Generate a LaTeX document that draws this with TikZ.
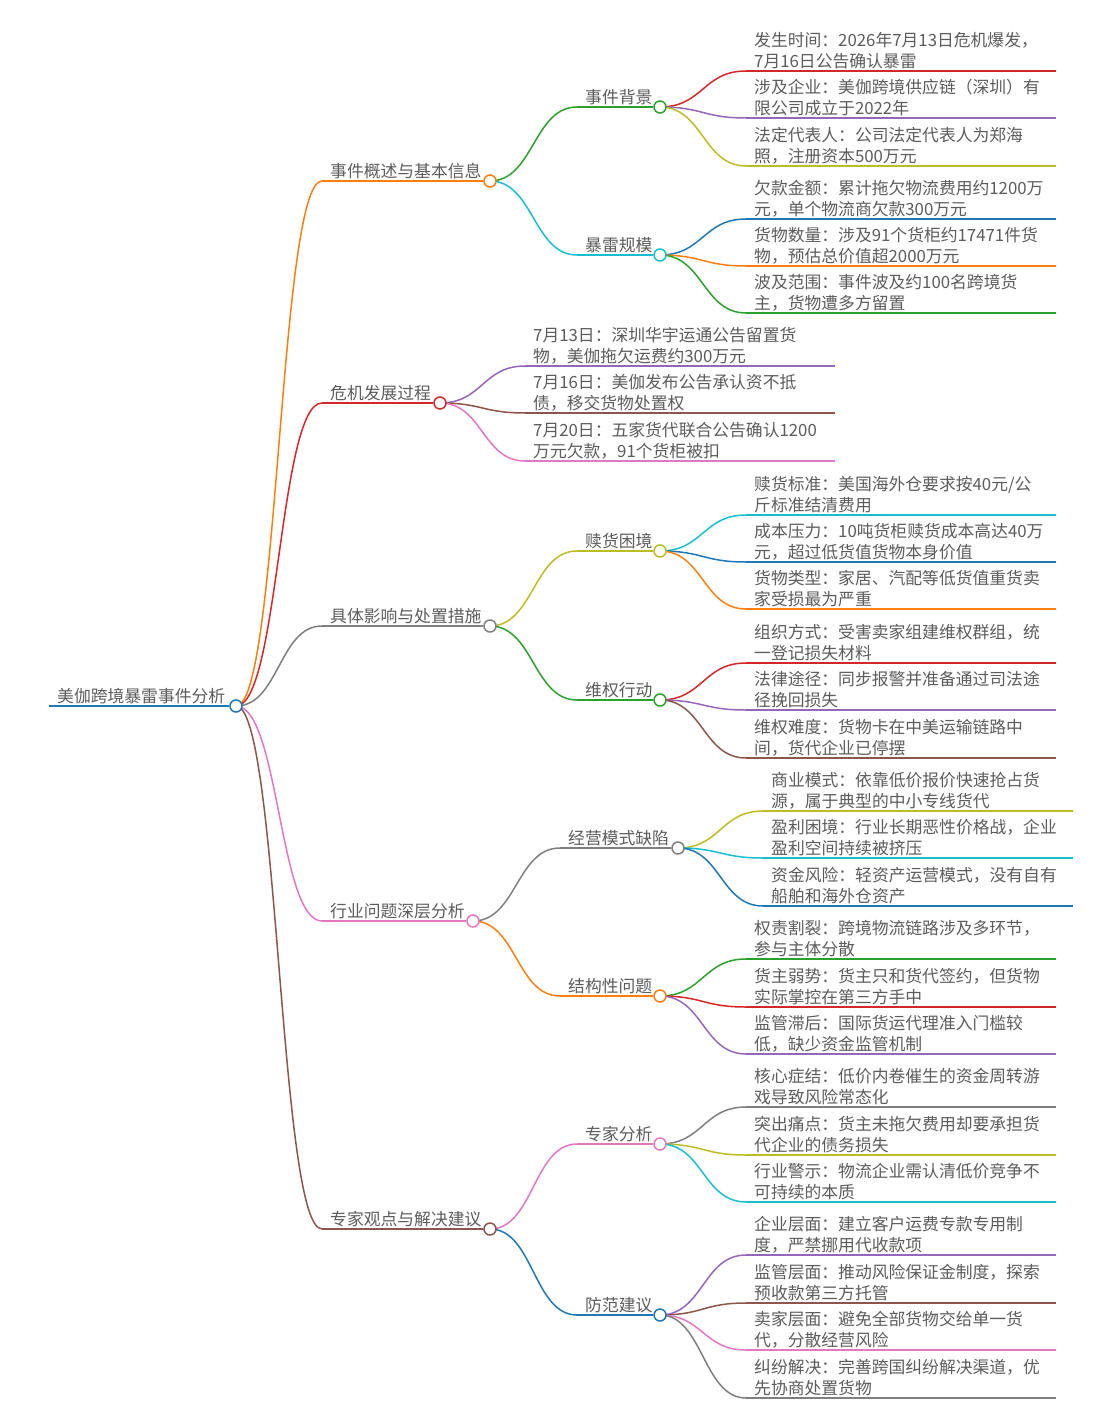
\documentclass[tikz,border=0pt]{standalone}
\usepackage{fontspec}
\newfontfamily\cjk{Noto Sans CJK SC}
\usetikzlibrary{calc}
\pgfdeclarelayer{bg}
\pgfsetlayers{bg,main}
\definecolor{mmblue}{HTML}{1F77B4}
\definecolor{mmorange}{HTML}{FF7F0E}
\definecolor{mmgreen}{HTML}{2CA02C}
\definecolor{mmred}{HTML}{D62728}
\definecolor{mmpurple}{HTML}{9467BD}
\definecolor{mmbrown}{HTML}{8C564B}
\definecolor{mmpink}{HTML}{E377C2}
\definecolor{mmgray}{HTML}{7F7F7F}
\definecolor{mmolive}{HTML}{BCBD22}
\definecolor{mmcyan}{HTML}{17BECF}
\definecolor{txt}{HTML}{5C5C5C}
\tikzset{
  ul/.style={line width=1.6pt},
  lk/.style={line width=1.5pt},
  dot/.style={circle,fill=white,line width=1.5pt,minimum size=12pt,inner sep=0pt},
  lbl/.style={font=\cjk\fontsize{16.8}{21}\selectfont,text=txt,inner sep=0pt},
}
% internal node: name, start x, circle x, y, colour, text
\newcommand\mmnode[6]{%
  \coordinate (#1s) at (#2,#4);
  \node[dot,draw=#5] (#1) at (#3,#4) {};
  \draw[#5,ul] (#1s) -- (#1);
  \node[lbl,anchor=south west] (#1t) at (#2+8,#4-1.5) {#6};
}
% leaf: name, start x, end x, y, colour, text
\newcommand\mmleaf[6]{%
  \coordinate (#1s) at (#2,#4);
  \coordinate (#1e) at (#3,#4);
  \draw[#5,ul] (#1s) -- (#1e);
  \node[lbl,align=left,anchor=south west] (#1t) at (#2+8,#4-1.5) {#6};
}
\newcommand\mmlink[3]{%
  \begin{pgfonlayer}{bg}
  \draw[#3,lk] let \p1=(#1), \p2=(#2) in (\p1) .. controls ({(\x1+\x2)/2},\y1) and ({(\x1+\x2)/2},\y2) .. (\p2);
  \end{pgfonlayer}
}
\begin{document}
\begin{tikzpicture}[x=1pt,y=-1pt]
\begin{pgfonlayer}{bg}
\fill[white] (0,0) rectangle (1110,1415);
\end{pgfonlayer}
\useasboundingbox (0,0) rectangle (1110,1415);

% root
\mmnode{R}{49}{236}{706}{mmblue}{美伽跨境暴雷事件分析}

% level 1
\mmnode{A}{322}{490}{181}{mmorange}{事件概述与基本信息}
\mmnode{B}{322}{440}{403}{mmred}{危机发展过程}
\mmnode{C}{322}{490}{626}{mmgray}{具体影响与处置措施}
\mmnode{D}{322}{473}{921}{mmpink}{行业问题深层分析}
\mmnode{E}{322}{490}{1229}{mmbrown}{专家观点与解决建议}

% level 2
\mmnode{Aa}{577}{660}{107}{mmgreen}{事件背景}
\mmnode{Ab}{577}{660}{255}{mmcyan}{暴雷规模}
\mmnode{Ca}{577}{660}{551}{mmolive}{赎货困境}
\mmnode{Cb}{577}{660}{700}{mmgreen}{维权行动}
\mmnode{Da}{560}{678}{848}{mmgray}{经营模式缺陷}
\mmnode{Db}{560}{660}{996}{mmorange}{结构性问题}
\mmnode{Ea}{577}{660}{1144}{mmpink}{专家分析}
\mmnode{Eb}{577}{660}{1315}{mmblue}{防范建议}

% leaves
\mmleaf{Aa1}{746}{1056}{71}{mmred}{发生时间：2026年7月13日危机爆发，\\7月16日公告确认暴雷}
\mmleaf{Aa2}{746}{1056}{118}{mmpurple}{涉及企业：美伽跨境供应链（深圳）有\\限公司成立于2022年}
\mmleaf{Aa3}{746}{1056}{166}{mmolive}{法定代表人：公司法定代表人为郑海\\照，注册资本500万元}
\mmleaf{Ab1}{746}{1056}{219}{mmblue}{欠款金额：累计拖欠物流费用约1200万\\元，单个物流商欠款300万元}
\mmleaf{Ab2}{746}{1056}{266}{mmorange}{货物数量：涉及91个货柜约17471件货\\物，预估总价值超2000万元}
\mmleaf{Ab3}{746}{1056}{313}{mmgreen}{波及范围：事件波及约100名跨境货\\主，货物遭多方留置}

\mmleaf{B1}{525}{835}{366}{mmpurple}{7月13日：深圳华宇运通公告留置货\\物，美伽拖欠运费约300万元}
\mmleaf{B2}{525}{835}{413}{mmbrown}{7月16日：美伽发布公告承认资不抵\\债，移交货物处置权}
\mmleaf{B3}{525}{835}{461}{mmpink}{7月20日：五家货代联合公告确认1200\\万元欠款，91个货柜被扣}

\mmleaf{Ca1}{746}{1056}{515}{mmcyan}{赎货标准：美国海外仓要求按40元/公\\斤标准结清费用}
\mmleaf{Ca2}{746}{1056}{562}{mmblue}{成本压力：10吨货柜赎货成本高达40万\\元，超过低货值货物本身价值}
\mmleaf{Ca3}{746}{1056}{609}{mmorange}{货物类型：家居、汽配等低货值重货卖\\家受损最为严重}
\mmleaf{Cb1}{746}{1056}{663}{mmred}{组织方式：受害卖家组建维权群组，统\\一登记损失材料}
\mmleaf{Cb2}{746}{1056}{710}{mmpurple}{法律途径：同步报警并准备通过司法途\\径挽回损失}
\mmleaf{Cb3}{746}{1056}{758}{mmbrown}{维权难度：货物卡在中美运输链路中\\间，货代企业已停摆}

\mmleaf{Da1}{763}{1073}{811}{mmolive}{商业模式：依靠低价报价快速抢占货\\源，属于典型的中小专线货代}
\mmleaf{Da2}{763}{1073}{858}{mmcyan}{盈利困境：行业长期恶性价格战，企业\\盈利空间持续被挤压}
\mmleaf{Da3}{763}{1073}{906}{mmblue}{资金风险：轻资产运营模式，没有自有\\船舶和海外仓资产}
\mmleaf{Db1}{746}{1056}{959}{mmgreen}{权责割裂：跨境物流链路涉及多环节，\\参与主体分散}
\mmleaf{Db2}{746}{1056}{1007}{mmred}{货主弱势：货主只和货代签约，但货物\\实际掌控在第三方手中}
\mmleaf{Db3}{746}{1056}{1054}{mmpurple}{监管滞后：国际货运代理准入门槛较\\低，缺少资金监管机制}

\mmleaf{Ea1}{746}{1056}{1107}{mmgray}{核心症结：低价内卷催生的资金周转游\\戏导致风险常态化}
\mmleaf{Ea2}{746}{1056}{1155}{mmolive}{突出痛点：货主未拖欠费用却要承担货\\代企业的债务损失}
\mmleaf{Ea3}{746}{1056}{1202}{mmcyan}{行业警示：物流企业需认清低价竞争不\\可持续的本质}
\mmleaf{Eb1}{746}{1056}{1255}{mmpurple}{企业层面：建立客户运费专款专用制\\度，严禁挪用代收款项}
\mmleaf{Eb2}{746}{1056}{1303}{mmbrown}{监管层面：推动风险保证金制度，探索\\预收款第三方托管}
\mmleaf{Eb3}{746}{1056}{1350}{mmpink}{卖家层面：避免全部货物交给单一货\\代，分散经营风险}
\mmleaf{Eb4}{746}{1056}{1398}{mmgray}{纠纷解决：完善跨国纠纷解决渠道，优\\先协商处置货物}

% links
\mmlink{R}{As}{mmorange}
\mmlink{R}{Bs}{mmred}
\mmlink{R}{Cs}{mmgray}
\mmlink{R}{Ds}{mmpink}
\mmlink{R}{Es}{mmbrown}
\mmlink{A}{Aas}{mmgreen}
\mmlink{A}{Abs}{mmcyan}
\mmlink{C}{Cas}{mmolive}
\mmlink{C}{Cbs}{mmgreen}
\mmlink{D}{Das}{mmgray}
\mmlink{D}{Dbs}{mmorange}
\mmlink{E}{Eas}{mmpink}
\mmlink{E}{Ebs}{mmblue}
\mmlink{Aa}{Aa1s}{mmred}
\mmlink{Aa}{Aa2s}{mmpurple}
\mmlink{Aa}{Aa3s}{mmolive}
\mmlink{Ab}{Ab1s}{mmblue}
\mmlink{Ab}{Ab2s}{mmorange}
\mmlink{Ab}{Ab3s}{mmgreen}
\mmlink{B}{B1s}{mmpurple}
\mmlink{B}{B2s}{mmbrown}
\mmlink{B}{B3s}{mmpink}
\mmlink{Ca}{Ca1s}{mmcyan}
\mmlink{Ca}{Ca2s}{mmblue}
\mmlink{Ca}{Ca3s}{mmorange}
\mmlink{Cb}{Cb1s}{mmred}
\mmlink{Cb}{Cb2s}{mmpurple}
\mmlink{Cb}{Cb3s}{mmbrown}
\mmlink{Da}{Da1s}{mmolive}
\mmlink{Da}{Da2s}{mmcyan}
\mmlink{Da}{Da3s}{mmblue}
\mmlink{Db}{Db1s}{mmgreen}
\mmlink{Db}{Db2s}{mmred}
\mmlink{Db}{Db3s}{mmpurple}
\mmlink{Ea}{Ea1s}{mmgray}
\mmlink{Ea}{Ea2s}{mmolive}
\mmlink{Ea}{Ea3s}{mmcyan}
\mmlink{Eb}{Eb1s}{mmpurple}
\mmlink{Eb}{Eb2s}{mmbrown}
\mmlink{Eb}{Eb3s}{mmpink}
\mmlink{Eb}{Eb4s}{mmgray}
\end{tikzpicture}
\end{document}
